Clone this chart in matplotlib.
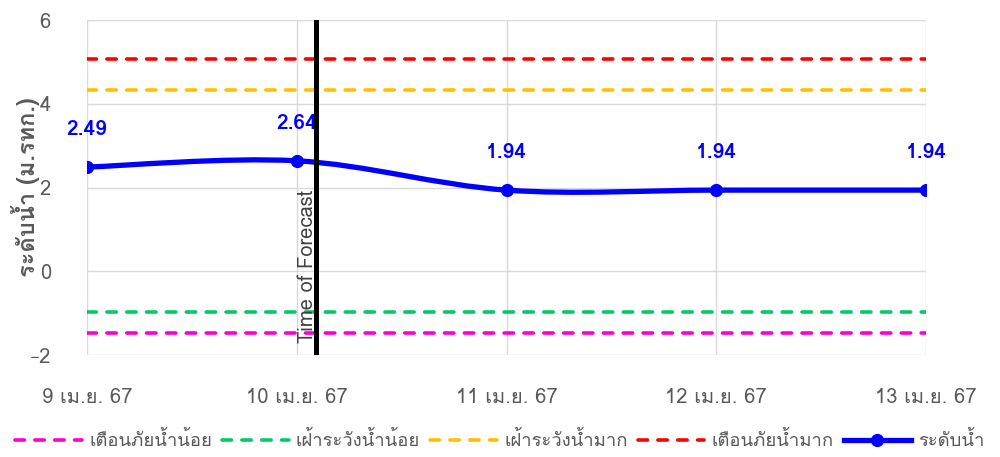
import matplotlib
matplotlib.use("Agg")
import matplotlib.pyplot as plt
from matplotlib import font_manager
from matplotlib.ft2font import FT2Font
from matplotlib.path import Path
from matplotlib.patches import PathPatch
from matplotlib.lines import Line2D

# ข้อมูล
dates = ["9 เม.ย. 67", "10 เม.ย. 67", "11 เม.ย. 67", "12 เม.ย. 67", "13 เม.ย. 67"]
water_level = [2.49, 2.64, 1.94, 1.94, 1.94]
warn_low = -1.47      # เตือนภัยน้ำน้อย
watch_low = -0.97     # เฝ้าระวังน้ำน้อย
watch_high = 4.33     # เฝ้าระวังน้ำมาก
warn_high = 5.07      # เตือนภัยน้ำมาก
forecast_x = 1.09

# find a font that can draw Thai
thai_fonts = []
for f in font_manager.fontManager.ttflist:
    try:
        if 0x0E19 in FT2Font(f.fname).get_charmap():
            if f.name not in thai_fonts:
                thai_fonts.append(f.name)
    except Exception:
        pass
plt.rcParams['font.family'] = thai_fonts + ['DejaVu Sans']

grey = '#595959'
fig, ax = plt.subplots(figsize=(10, 4.57), dpi=100)
fig.subplots_adjust(left=0.087, right=0.926, top=0.956, bottom=0.223)

x = list(range(len(dates)))
dash = dict(lw=2.6, dashes=(2.6, 2.9), dash_capstyle='round')
ax.plot([0, 4], [warn_low] * 2, color='#ff00cc', label='เตือนภัยน้ำน้อย', **dash)
ax.plot([0, 4], [watch_low] * 2, color='#00cc66', label='เฝ้าระวังน้ำน้อย', **dash)
ax.plot([0, 4], [watch_high] * 2, color='#ffc000', label='เฝ้าระวังน้ำมาก', **dash)
ax.plot([0, 4], [warn_high] * 2, color='#ff0000', label='เตือนภัยน้ำมาก', **dash)

# smooth line like excel (bezier through the points)
verts = [(x[0], water_level[0])]
codes = [Path.MOVETO]
n = len(x)
for i in range(n - 1):
    p0 = (x[max(i - 1, 0)], water_level[max(i - 1, 0)])
    p1 = (x[i], water_level[i])
    p2 = (x[i + 1], water_level[i + 1])
    p3 = (x[min(i + 2, n - 1)], water_level[min(i + 2, n - 1)])
    c1 = (p1[0] + (p2[0] - p0[0]) / 6, p1[1] + (p2[1] - p0[1]) / 6)
    c2 = (p2[0] - (p3[0] - p1[0]) / 6, p2[1] - (p3[1] - p1[1]) / 6)
    verts += [c1, c2, p2]
    codes += [Path.CURVE4] * 3
ax.add_patch(PathPatch(Path(verts, codes), fill=False, edgecolor='#0000ff', lw=3.8, zorder=4))
ax.plot(x, water_level, 'o', color='#0000ff', ms=8.5, zorder=5)
for xi, yi in zip(x, water_level):
    ax.annotate(f"{yi:.2f}", (xi, yi), xytext=(0, 20), textcoords='offset points',
                ha='center', va='bottom', color='#0000ff', fontsize=15, fontweight='bold')

ax.axvline(forecast_x, color='black', lw=3.6, zorder=6)
ax.text(forecast_x + 0.005, -1.72, 'Time of Forecast', rotation=90, ha='right', va='bottom',
        fontsize=14.5, color='#404040', zorder=3)

ax.set_xlim(0, 4)
ax.set_ylim(-2, 6)
ax.set_yticks([-2, 0, 2, 4, 6])
ax.set_xticks(x)
ax.set_xticklabels(dates)
ax.tick_params(axis='both', length=0, colors=grey, labelsize=14.5)
ax.tick_params(axis='x', pad=24)
ax.tick_params(axis='y', pad=26)
ax.grid(True, color='#d9d9d9', lw=1)
ax.set_axisbelow(True)
for s in ax.spines.values():
    s.set_visible(False)
ax.set_ylabel('ระดับน้ำ (ม.รทก.)', color=grey, fontsize=17, fontweight='bold')
ax.yaxis.set_label_coords(-0.056, 0.5)

handles, labels = ax.get_legend_handles_labels()
handles.append(Line2D([], [], color='#0000ff', lw=3.8, marker='o', ms=8.5))
labels.append('ระดับน้ำ')
ax.legend(handles, labels, loc='center', bbox_to_anchor=(0.492, -0.255), ncol=5,
          frameon=False, fontsize=13.3, handlelength=3.6, columnspacing=0.55, handletextpad=0.4,
          labelcolor=grey, borderpad=0)

fig.savefig('out.png', dpi=100)
